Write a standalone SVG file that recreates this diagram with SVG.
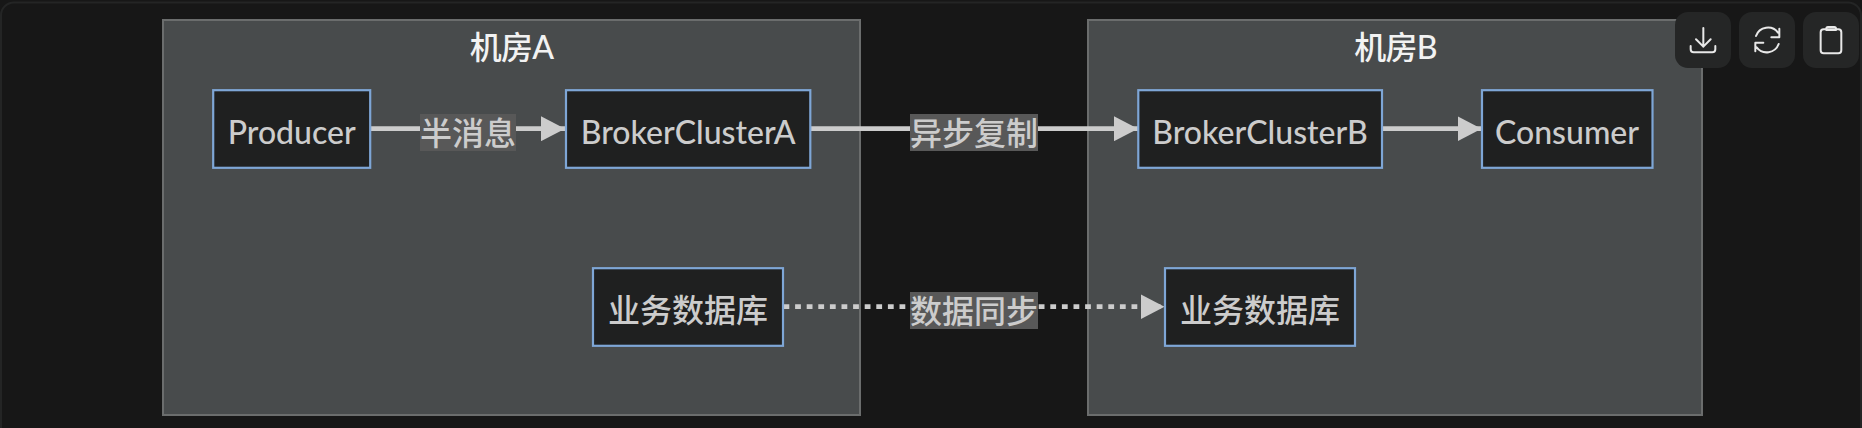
<svg xmlns="http://www.w3.org/2000/svg" width="1862" height="428" viewBox="0 0 1862 428">
<style>
text{font-family:"Lato","Noto Sans CJK SC",sans-serif;font-size:32px;font-weight:500;text-anchor:middle}
.cl{fill:#484b4c;stroke:#6b6d6d;stroke-width:2}
.ct{fill:#f2f2f2;letter-spacing:-.8px}
.n{fill:#1f2020;stroke:#7ea6d6;stroke-width:2.2}
.nt{fill:#cccccc}
.e{fill:none;stroke:#cccccc;stroke-width:4.75}
.d{stroke-dasharray:5.8 5.8}
.lb{fill:#585858}
.lt{fill:#cccccc}
.b{fill:#252626}
.i{fill:none;stroke:#e8e8e8;stroke-width:6;stroke-linecap:round;stroke-linejoin:round}
</style>
<defs>
<marker id="ah" markerUnits="userSpaceOnUse" markerWidth="24" markerHeight="25" refX="24" refY="12.5" orient="auto"><path d="M0 0L24 12.500L0 25Z" fill="#cccccc"/></marker>
</defs>
<rect width="1862" height="428" fill="#171717"/>
<rect x="1" y="2.500" width="1860" height="500" rx="13" fill="none" stroke="#242525" stroke-width="2"/>
<g id="clusterA"><rect class="cl" x="163" y="20" width="697" height="395"/><text class="ct" x="511.500" y="59">机房A</text></g>
<g id="clusterB"><rect class="cl" x="1088" y="20" width="614" height="395"/><text class="ct" x="1395.500" y="59">机房B</text></g>
<g id="connectors">
<path class="e" d="M370 128.700H565" marker-end="url(#ah)"/>
<path class="e" d="M810.500 128.700H1138" marker-end="url(#ah)"/>
<path class="e" d="M1382 128.700H1481.500" marker-end="url(#ah)"/>
<path class="e d" d="M783.500 306.700H1164.500" marker-end="url(#ah)"/>
<rect class="lb" x="420" y="114" width="96" height="37"/><text class="lt" x="468" y="144.500">半消息</text>
<rect class="lb" x="910" y="114" width="128" height="37"/><text class="lt" x="974" y="144.500">异步复制</text>
<rect class="lb" x="910" y="292" width="128" height="37"/><text class="lt" x="974" y="322.500">数据同步</text>
</g>
<g id="producer"><rect class="n" x="213.200" y="90.200" width="157" height="77.600"/><text class="nt" x="291.700" y="144">Producer</text></g>
<g id="brokerA"><rect class="n" x="566" y="90.200" width="244.300" height="77.600"/><text class="nt" x="688.200" y="144">BrokerClusterA</text></g>
<g id="brokerB"><rect class="n" x="1138.300" y="90.200" width="243.700" height="77.600"/><text class="nt" x="1260" y="144">BrokerClusterB</text></g>
<g id="consumer"><rect class="n" x="1482" y="90.200" width="170.500" height="77.600"/><text class="nt" x="1567" y="144">Consumer</text></g>
<g id="dbA"><rect class="n" x="593" y="268.200" width="190" height="77.600"/><text class="nt" x="688" y="322">业务数据库</text></g>
<g id="dbB"><rect class="n" x="1165" y="268.200" width="190" height="77.600"/><text class="nt" x="1260" y="322">业务数据库</text></g>
<g id="toolbar">
<rect class="b" x="1675" y="12" width="56" height="56" rx="13"/>
<rect class="b" x="1739" y="12" width="56" height="56" rx="13"/>
<rect class="b" x="1803" y="12" width="56" height="56" rx="13"/>
<g transform="translate(1660 0) scale(.3333)">
<path class="i" d="M130 84V140M108 118L130 140L152 118M92 138V148Q92 157 101 157H157Q166 157 166 148V138"/>
<path class="i" d="M288 108A38 38 0 0 1 354 98M358 86V112H334M356 132A38 38 0 0 1 290 142M286 154V128H310"/>
<rect class="i" x="482" y="88" width="62" height="72" rx="9"/>
<path class="i" d="M499 90V86Q499 81 504 81H523Q528 81 528 86V90Z"/>
</g>
</g>
</svg>
